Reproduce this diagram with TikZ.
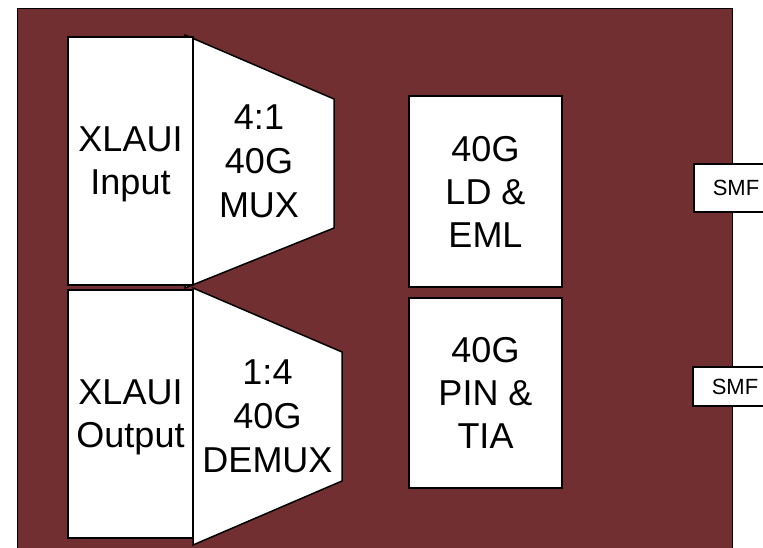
\documentclass[tikz,border=0pt]{standalone}
\usepackage{fontspec}
\setmainfont{Liberation Sans}
\definecolor{board}{RGB}{114,47,50}
\begin{document}
\begin{tikzpicture}[x=1pt,y=-1pt,
  blk/.style={draw=black, line width=1.5pt, fill=white, inner sep=0pt, align=center,
              font=\fontsize{36}{43}\selectfont},
  trap/.style={draw=black, line width=1.5pt, fill=white, line join=miter},
  lbl/.style={inner sep=0pt, align=center, font=\fontsize{36}{44}\selectfont},
  smf/.style={draw=black, line width=1.2pt, fill=white, inner sep=0pt,
              font=\fontsize{22}{24}\selectfont}]
\useasboundingbox (0,0) rectangle (763,548);
\clip (0,0) rectangle (763,548);
% board
\draw[fill=board, draw=black, line width=1pt] (17,9) rectangle (732,575);
% mux / demux trapezoids
\draw[trap] (185,35) -- (334,99) -- (334,228) -- (185,288) -- cycle;
\node[lbl] (mux) at (259,161) {4:1\\40G\\MUX};
\draw[trap] (193,288) -- (342,352) -- (342,481) -- (193,545) -- cycle;
\node[lbl] (demux) at (267.5,416) {1:4\\40G\\DEMUX};
% XLAUI boxes
\node[blk, text depth=0pt, minimum width=125pt, minimum height=248pt] (xin) at (130.5,161) {XLAUI\\Input};
\node[blk, text depth=0pt, minimum width=125pt, minimum height=248pt] (xout) at (130.5,414) {XLAUI\\Output};
% optics
\node[blk, minimum width=153pt, minimum height=191pt] (ld) at (485.5,191.5) {40G\\LD \&\\EML};
\node[blk, minimum width=153pt, minimum height=190pt] (pin) at (485.5,393) {40G\\PIN \&\\TIA};
% SMF
\node[smf, minimum width=84pt, minimum height=48pt] (smfa) at (736,188) {SMF};
\node[smf, minimum width=84pt, minimum height=39pt] (smfb) at (735,386.5) {SMF};
\end{tikzpicture}
\end{document}
